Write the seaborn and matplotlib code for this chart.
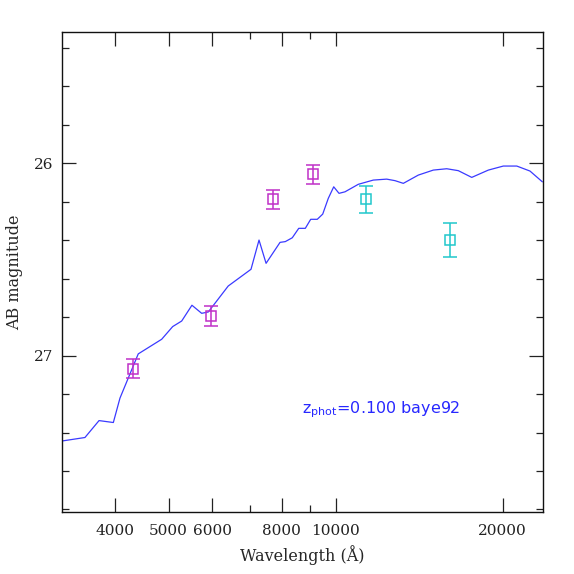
import numpy as np
import pandas as pd
import seaborn as sns
import matplotlib.pyplot as plt
from matplotlib.ticker import FixedLocator, FixedFormatter, MultipleLocator, NullFormatter

# model spectrum (wavelength in Angstrom, AB mag)
spec_wave = [3200, 3535, 3748, 3977, 4088, 4410, 4860, 5087, 5281, 5510, 5737, 5897,
             6405, 7040, 7278, 7494, 7941, 8117, 8355, 8582, 8819, 9018, 9268, 9479,
             9701, 9922, 10142, 10397, 10987, 11691, 12359, 12795, 13243, 14093,
             14997, 15856, 16637, 17590, 18844, 20053, 21203, 22397, 23575]
spec_mag = [27.445, 27.426, 27.338, 27.348, 27.221, 26.991, 26.915, 26.849, 26.820,
            26.738, 26.780, 26.773, 26.638, 26.551, 26.399, 26.520, 26.411, 26.407,
            26.387, 26.338, 26.338, 26.291, 26.291, 26.264, 26.182, 26.122, 26.156,
            26.148, 26.109, 26.087, 26.082, 26.090, 26.104, 26.061, 26.035, 26.028,
            26.038, 26.073, 26.035, 26.014, 26.014, 26.040, 26.096]

# photometry, optical (magenta) and near-IR (cyan)
opt_wave = [4318, 5958, 7722, 9094]
opt_mag = [27.069, 26.792, 26.187, 26.057]
opt_err = [0.05, 0.052, 0.05, 0.05]

nir_wave = [11346, 16090]
nir_mag = [26.187, 26.399]
nir_err = [0.069, 0.09]

xticks = [4000, 5000, 6000, 8000, 10000, 20000]
xminor = [7000, 9000]

sns.set_style("ticks")
plt.rcParams['font.family'] = ['DejaVu Serif', 'DejaVu Sans']

fig = plt.figure(figsize=(5.74, 5.74), dpi=100)
ax = fig.add_axes([0.108, 0.1085, 0.838, 0.836])

spec = pd.DataFrame({'wave': spec_wave, 'mag': spec_mag})
sns.lineplot(data=spec, x='wave', y='mag', ax=ax, color='#3a3aff', lw=0.9,
             sort=False, estimator=None)

ax.errorbar(opt_wave, opt_mag, yerr=opt_err, fmt='s', mfc='none', mec='#c030c8',
            ecolor='#c030c8', ms=7, mew=1.1, elinewidth=1.1, capsize=5, capthick=1.1)
ax.errorbar(nir_wave, nir_mag, yerr=nir_err, fmt='s', mfc='none', mec='#20c8cc',
            ecolor='#20c8cc', ms=7, mew=1.1, elinewidth=1.1, capsize=5, capthick=1.1)

ax.set_xscale('log')
ax.set_xlim(3214, 23640)
ax.set_ylim(27.812, 25.316)

ax.xaxis.set_major_locator(FixedLocator(xticks))
ax.xaxis.set_major_formatter(FixedFormatter([str(t) for t in xticks]))
ax.xaxis.set_minor_locator(FixedLocator(xminor))
ax.xaxis.set_minor_formatter(NullFormatter())
ax.yaxis.set_major_locator(FixedLocator([26, 27]))
ax.yaxis.set_minor_locator(MultipleLocator(0.2))

ax.tick_params(which='both', direction='in', top=True, right=True, width=0.9,
               labelsize=11, colors='#222222')
ax.tick_params(which='major', length=10, pad=9)
ax.tick_params(axis='y', which='major', pad=6)
ax.tick_params(which='minor', length=5)
for s in ax.spines.values():
    s.set_linewidth(1.0)
    s.set_color('#111111')

ax.set_xlabel('Wavelength (Å)', fontsize=11.5, labelpad=5)
ax.set_ylabel('AB magnitude', fontsize=11.5, labelpad=8)

ax.text(0.50, 0.205, r'z$_{\rm phot}$=0.100 baye92', transform=ax.transAxes,
        color='#2828ff', fontsize=11.5, family=['DejaVu Sans'])

fig.savefig('out.png', dpi=100)
